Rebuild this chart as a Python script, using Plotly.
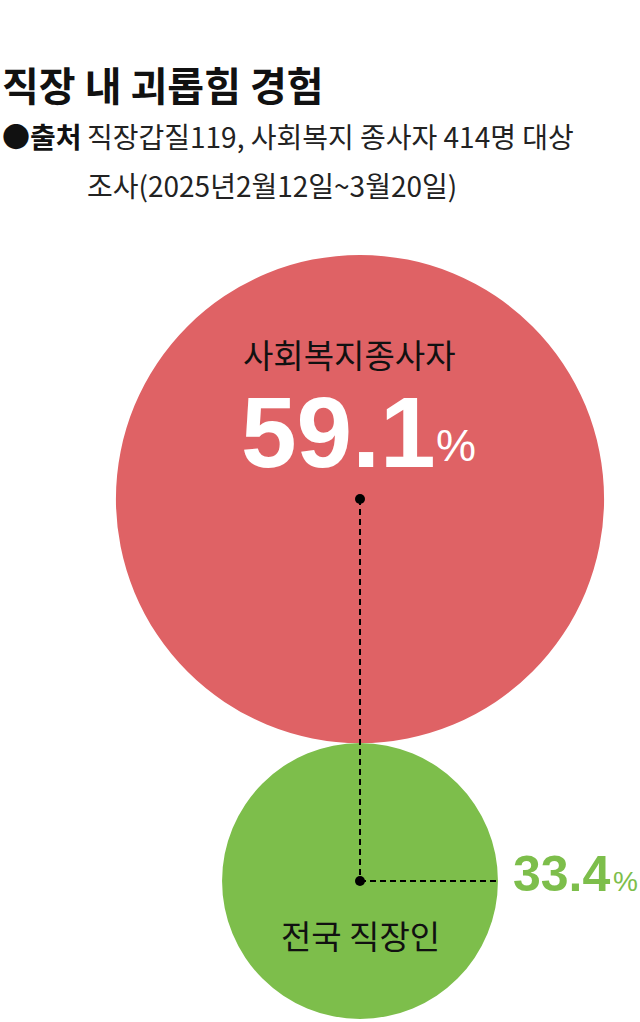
import plotly.graph_objects as go

# ---- data ----
categories = ["사회복지종사자", "전국 직장인"]
values = [59.1, 33.4]
value_labels = ["59.1", "33.4"]
colors = ["#df6265", "#7dbe4b"]

title = "직장 내 괴롭힘 경험"
source_label = "●출처"
source_line1 = "직장갑질119, 사회복지 종사자 414명 대상"
source_line2 = "조사(2025년2월12일~3월20일)"

W, H = 640, 1022
KFONT = "Noto Sans CJK KR"
NFONT = "Liberation Sans"

# scale: radius in px per percentage point
k = 4.13
r = [v * k for v in values]
cx = 360
cy_big = 499
cy_small = cy_big + r[0] + r[1]
cys = [cy_big, cy_small]

fig = go.Figure()

shapes = []
for i in range(2):
    shapes.append(dict(type="circle", xref="x", yref="y",
                       x0=cx - r[i], x1=cx + r[i], y0=cys[i] - r[i], y1=cys[i] + r[i],
                       fillcolor=colors[i], line=dict(width=0), layer="below"))
# dashed connectors
shapes.append(dict(type="line", xref="x", yref="y", x0=cx, x1=cx, y0=cys[0], y1=cys[1],
                   line=dict(color="black", width=2, dash="6px,4px")))
shapes.append(dict(type="line", xref="x", yref="y", x0=cx, x1=cx + r[1], y0=cys[1], y1=cys[1],
                   line=dict(color="black", width=2, dash="6px,4px")))

fig.add_trace(go.Scatter(x=[cx, cx], y=cys, mode="markers",
                         marker=dict(size=10, color="black"),
                         hoverinfo="skip", showlegend=False))

ann = []
ann.append(dict(x=0, y=84, xref="x", yref="y", text=title, showarrow=False,
                xanchor="left", yanchor="middle",
                font=dict(family=KFONT, size=40, color="#111", weight="bold")))
ann.append(dict(x=0, y=136, xref="x", yref="y", text=source_label, showarrow=False,
                xanchor="left", yanchor="middle",
                font=dict(family=KFONT, size=28, color="#111", weight="bold")))
ann.append(dict(x=85, y=136, xref="x", yref="y", text=source_line1, showarrow=False,
                xanchor="left", yanchor="middle",
                font=dict(family=KFONT, size=28, color="#222")))
ann.append(dict(x=85, y=185, xref="x", yref="y", text=source_line2, showarrow=False,
                xanchor="left", yanchor="middle",
                font=dict(family=KFONT, size=28, color="#222")))

# big circle labels
ann.append(dict(x=349, y=354, xref="x", yref="y", text=categories[0], showarrow=False,
                xanchor="center", yanchor="middle",
                font=dict(family=KFONT, size=33, color="#111")))
ann.append(dict(x=437, y=489, xref="x", yref="y", text=value_labels[0], showarrow=False,
                xanchor="right", yanchor="bottom", borderpad=0,
                font=dict(family=NFONT, size=100, color="white", weight="bold")))
ann.append(dict(x=434, y=473, xref="x", yref="y", text="%", showarrow=False,
                xanchor="left", yanchor="bottom",
                font=dict(family=NFONT, size=45, color="white")))

# small circle labels
ann.append(dict(x=cx, y=935, xref="x", yref="y", text=categories[1], showarrow=False,
                xanchor="center", yanchor="middle",
                font=dict(family=KFONT, size=33, color="#111")))
ann.append(dict(x=613, y=904, xref="x", yref="y", text=value_labels[1], showarrow=False,
                xanchor="right", yanchor="bottom",
                font=dict(family=NFONT, size=50, color=colors[1], weight="bold")))
ann.append(dict(x=611, y=899, xref="x", yref="y", text="%", showarrow=False,
                xanchor="left", yanchor="bottom",
                font=dict(family=NFONT, size=28, color=colors[1])))

fig.update_layout(
    width=W, height=H, margin=dict(l=0, r=0, t=0, b=0),
    paper_bgcolor="white", plot_bgcolor="white",
    xaxis=dict(range=[0, W], visible=False, fixedrange=True),
    yaxis=dict(range=[H, 0], visible=False, fixedrange=True),
    shapes=shapes, annotations=ann, showlegend=False,
)
fig.write_html("out.html", post_script="document.body.style.margin='0';",
               config={"displayModeBar": False})
